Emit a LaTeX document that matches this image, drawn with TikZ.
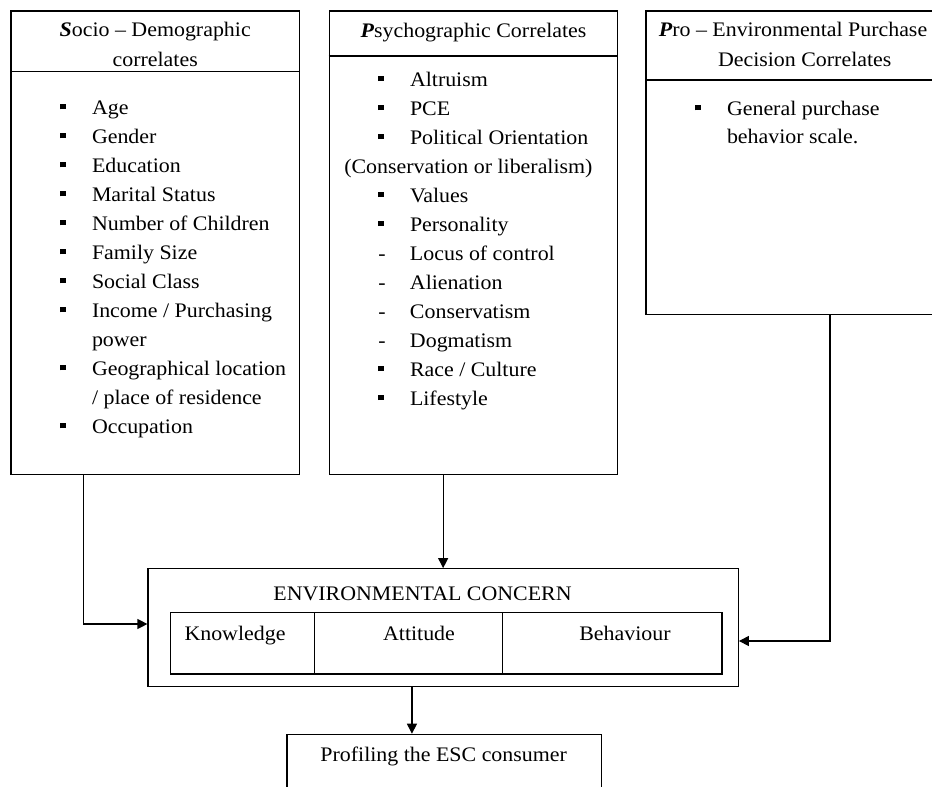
\documentclass[tikz,border=0pt]{standalone}
\usepackage{fontspec}
\setmainfont{Liberation Serif}[FakeStretch=1.06]
\usetikzlibrary{arrows.meta,fit}

\newcommand{\itemfont}{\fontsize{15.5}{18}\selectfont}
\newcommand{\sqb}{\rule[3.75pt]{4pt}{4pt}}
\newcommand{\mk}[2]{\makebox[23.8pt][l]{#1}#2}

\tikzset{
  box/.style={draw, line width=0.9pt, inner sep=0pt},
  txt/.style={font=\itemfont, inner sep=0pt, anchor=base west},
  head/.style={font=\itemfont, inner sep=0pt, anchor=base},
  conn/.style={line width=0.9pt, -{Triangle[length=7.5pt,width=7.5pt]}},
}

\begin{document}
\begin{tikzpicture}[x=0.75pt,y=-0.75pt]
\useasboundingbox (0,0) rectangle (932,786);
\clip (0,0) rectangle (932,786);

% the three correlate boxes
\node[box, fit={(11,11) (299.3,474.5)}] (socio) {};
\node[box, fit={(329.3,11) (617.7,474.5)}] (psy) {};
\node[box, fit={(646,11) (953,314.5)}] (pro) {};
\draw[line width=0.9pt] (socio.west |- 0,71.3) -- (socio.east |- 0,71.3);
\draw[line width=0.9pt] (psy.west |- 0,56) -- (psy.east |- 0,56);
\draw[line width=0.9pt] (pro.west |- 0,80) -- (pro.east |- 0,80);

\node[head] (sochd) at (155.2,36.7) {\textbf{\textit{S}}ocio – Demographic};
\node[head] (sochdb) at (155.2,66.7) {correlates};
\node[head] (psyhd) at (473.5,37.3) {\textbf{\textit{P}}sychographic Correlates};
\node[head] (prohd) at (793,36.7) {\textbf{\textit{P}}ro – Environmental Purchase};
\node[head] (prohdb) at (804.7,66.7) {Decision Correlates};

% lists
\foreach \m/\t/\n in {\sqb/Age/0, \sqb/Gender/1, \sqb/Education/2,
    \sqb/Marital Status/3, \sqb/Number of Children/4, \sqb/Family Size/5,
    \sqb/Social Class/6, \sqb/{Income / Purchasing}/7, /power/8,
    \sqb/Geographical location/9, /{/ place of residence}/10, \sqb/Occupation/11}
  \node[txt] (soc\n) at (60,{114.3+29*\n}) {\mk{\m}{\t}};

\foreach \m/\t/\n in {\sqb/Altruism/0, \sqb/PCE/1, \sqb/Political Orientation/2,
    \sqb/Values/4, \sqb/Personality/5, -/Locus of control/6, -/Alienation/7,
    -/Conservatism/8, -/Dogmatism/9, \sqb/{Race / Culture}/10, \sqb/Lifestyle/11}
  \node[txt] (psy\n) at (378,{86+29*\n}) {\mk{\m}{\t}};
\node[txt] (psy3) at (344,173) {(Conservation or liberalism)};

\foreach \m/\t/\n in {\sqb/General purchase/0, /behavior scale./1}
  \node[txt] (pro\n) at (695,{115.3+28.5*\n}) {\mk{\m}{\t}};

% environmental concern
\node[box, fit={(148,568.7) (738.3,686.7)}] (ec) {};
\node[box, fit={(170.3,612.7) (314.3,674)}] (know) {};
\node[box, fit={(314.3,612.7) (502.3,674)}] (att) {};
\node[box, fit={(502.3,612.7) (722,674)}] (beh) {};
\node[head] (ectitle) at (422.5,600) {ENVIRONMENTAL CONCERN};
\node[head] (knowlbl) at (235,640) {Knowledge};
\node[head] (attlbl) at (419,640) {Attitude};
\node[head] (behlbl) at (625,640) {Behaviour};

\node[box, fit={(287,734.3) (601.3,800)}] (prof) {};
\node[head] (proflbl) at (443.7,761.7) {Profiling the ESC consumer};

% connectors
\draw[conn] ([shift={(73,0)}]socio.south west) |- ([shift={(0,-3.7)}]ec.west);
\draw[conn] (psy.south -| ec.north) -- (ec.north);
\draw[conn] ([shift={(30.5,0)}]pro.south) |- ([shift={(0,13.3)}]ec.east);
\draw[conn] ([shift={(-31.2,0)}]ec.south) -- ([shift={(-32.2,0)}]prof.north);
\end{tikzpicture}
\end{document}
